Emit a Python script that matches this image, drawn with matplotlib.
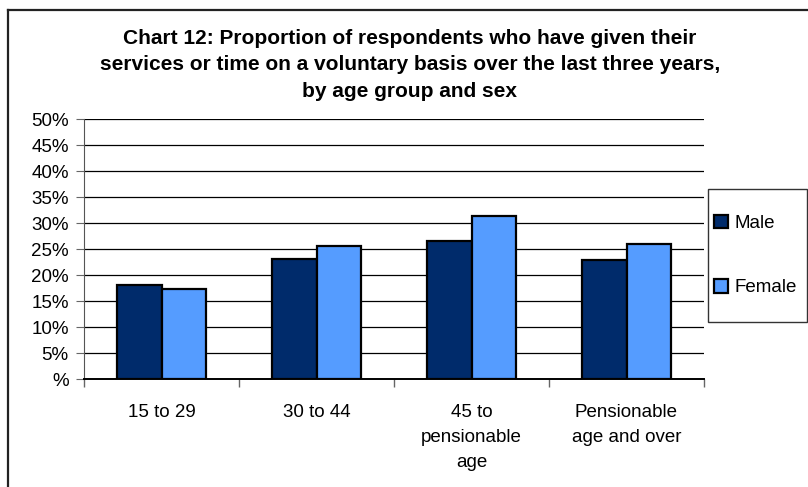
import numpy as np
import matplotlib
matplotlib.use('Agg')
import matplotlib.pyplot as plt
import matplotlib.ticker as ticker
from matplotlib.lines import Line2D
from matplotlib.patches import Rectangle

plt.rcParams['font.family'] = ['Liberation Sans', 'DejaVu Sans']

categories = ['15 to 29', '30 to 44', '45 to\npensionable\nage', 'Pensionable\nage and over']
male = [18.1, 23.0, 26.5, 22.8]
female = [17.4, 25.6, 31.3, 26.0]
series_names = ['Male', 'Female']
tick_values = list(range(0, 55, 5))
tick_labels = ['%'] + ['%d%%' % v for v in tick_values[1:]]

title = ('Chart 12: Proportion of respondents who have given their\n'
         'services or time on a voluntary basis over the last three years,\n'
         'by age group and sex')

W, H = 808, 487


def main():
    fig = plt.figure(figsize=(W / 100, H / 100), dpi=100)

    # outer chart frame: only left and top edges fall inside the picture
    fig.add_artist(Line2D([7.5 / W, 7.5 / W], [0, 1 - 9.5 / H], transform=fig.transFigure,
                          color='#222222', linewidth=1.6))
    fig.add_artist(Line2D([7.5 / W, 1], [1 - 9.5 / H, 1 - 9.5 / H], transform=fig.transFigure,
                          color='#222222', linewidth=1.6))

    ax = fig.add_axes([84 / W, 1 - 379 / H, 620 / W, 260 / H])

    x = np.arange(len(categories))
    w = 0.29
    b1 = ax.bar(x - w / 2, male, w, color='#002B6B', edgecolor='black', linewidth=1.6,
                label=series_names[0], zorder=3)
    b2 = ax.bar(x + w / 2, female, w, color='#559CFF', edgecolor='black', linewidth=1.6,
                label=series_names[1], zorder=3)

    ax.set_xlim(-0.5, len(categories) - 0.5)
    ax.set_ylim(0, 50)
    ax.set_yticks(tick_values)
    ax.set_yticklabels(tick_labels, fontsize=13.5)
    ax.yaxis.grid(True, color='black', linewidth=0.9, zorder=0)
    ax.set_axisbelow(True)

    ax.set_xticks(x)
    ax.set_xticklabels(categories, fontsize=13.5, linespacing=1.6)
    ax.tick_params(axis='x', length=0, pad=18)
    ax.xaxis.set_minor_locator(ticker.FixedLocator(np.arange(-0.5, len(categories), 1.0)))
    ax.tick_params(axis='x', which='minor', length=6, color='#666666', width=1)
    ax.tick_params(axis='y', length=6, color='#666666', pad=5)

    for s in ['top', 'right']:
        ax.spines[s].set_visible(False)
    ax.spines['left'].set_color('#555555')
    ax.spines['bottom'].set_color('black')
    ax.spines['bottom'].set_linewidth(1.4)

    fig.text(410 / W, 1 - 65 / H, title, ha='center', va='center', fontsize=15,
             fontweight='bold', linespacing=1.5)

    # legend box drawn separately so its size matches the reference
    fig.patches.append(Rectangle((708 / W, 1 - 322 / H), 99 / W, 133 / H, transform=fig.transFigure,
                                 fill=False, edgecolor='#333333', linewidth=1.0))
    fig.legend(handles=[b1, b2], loc='center left', bbox_to_anchor=(714 / W, 1 - 255.5 / H),
               frameon=False, fontsize=13.5,
               handlelength=0.75, handleheight=0.75, handletextpad=0.37,
               labelspacing=2.5, borderpad=0, borderaxespad=0)

    fig.savefig('out.png', dpi=100)


if __name__ == '__main__':
    main()
